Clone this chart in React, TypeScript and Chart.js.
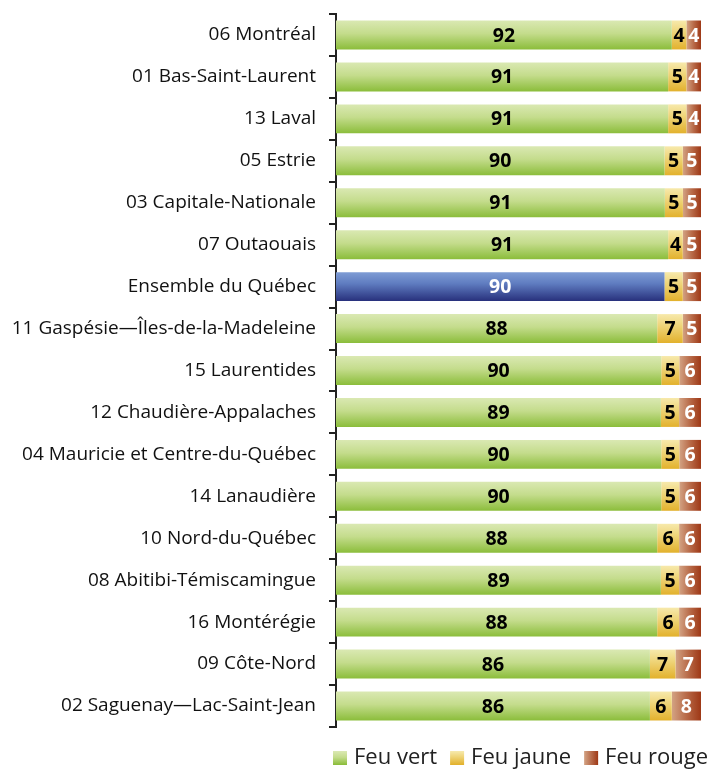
import React, { useEffect, useRef } from "react";
import { Chart, registerables } from "chart.js";
Chart.register(...registerables);

const categories = [
  "06 Montréal",
  "01 Bas-Saint-Laurent",
  "13 Laval",
  "05 Estrie",
  "03 Capitale-Nationale",
  "07 Outaouais",
  "Ensemble du Québec",
  "11 Gaspésie—Îles-de-la-Madeleine",
  "15 Laurentides",
  "12 Chaudière-Appalaches",
  "04 Mauricie et Centre-du-Québec",
  "14 Lanaudière",
  "10 Nord-du-Québec",
  "08 Abitibi-Témiscamingue",
  "16 Montérégie",
  "09 Côte-Nord",
  "02 Saguenay—Lac-Saint-Jean",
];
const feuVert = [92, 91, 91, 90, 91, 91, 90, 88, 90, 89, 90, 90, 88, 89, 88, 86, 86];
const feuJaune = [4, 5, 5, 5, 5, 4, 5, 7, 5, 5, 5, 5, 6, 5, 6, 7, 6];
const feuRouge = [4, 4, 4, 5, 5, 5, 5, 5, 6, 6, 6, 6, 6, 6, 6, 7, 8];
const seriesNames = ["Feu vert", "Feu jaune", "Feu rouge"];
const highlightIndex = 6;

const totals = categories.map((_, i) => feuVert[i] + feuJaune[i] + feuRouge[i]);
const norm = (arr: number[]) => arr.map((v, i) => (v / totals[i]) * 100);
const rawSeries = [feuVert, feuJaune, feuRouge];

const FONT = "'Open Sans', Lato, sans-serif";

function vGrad(chart: any, idx: number, stops: [number, string][]) {
  const c = chart.ctx;
  const ys = chart.scales.y;
  const fallback = stops[stops.length - 1][1];
  if (!ys) return fallback;
  const y = ys.getPixelForValue(idx);
  if (!Number.isFinite(y)) return fallback;
  const g = c.createLinearGradient(0, y - 15, 0, y + 15);
  stops.forEach(([o, col]) => g.addColorStop(o, col));
  return g;
}

const greenStops: [number, string][] = [[0, "#dbe9b4"], [0.45, "#c4dc8c"], [1, "#89bc38"]];
const blueStops: [number, string][] = [[0, "#809ed6"], [0.4, "#5f7cc0"], [1, "#262e7a"]];
const yellowStops: [number, string][] = [[0, "#f7eaae"], [0.4, "#efd57a"], [1, "#e2b02a"]];

export default function App() {
  const ref = useRef<HTMLCanvasElement>(null);
  useEffect(() => {
    if (!ref.current) return;
    const labelPlugin = {
      id: "valLabels",
      afterDatasetsDraw(chart: any) {
        const c = chart.ctx;
        c.save();
        c.font = `bold 19.5px ${FONT}`;
        c.textAlign = "center";
        c.textBaseline = "middle";
        chart.data.datasets.forEach((ds: any, di: number) => {
          const meta = chart.getDatasetMeta(di);
          meta.data.forEach((el: any, i: number) => {
            const cx = (el.x + el.base) / 2;
            let color = "#000";
            if (di === 2) color = "#fff";
            if (di === 0 && i === highlightIndex) color = "#fff";
            c.fillStyle = color;
            c.fillText(String(rawSeries[di][i]), cx, el.y + 1);
          });
        });
        c.restore();
      },
    };
    const legendPlugin = {
      id: "customLegend",
      afterDraw(chart: any) {
        const c = chart.ctx;
        c.save();
        const y = 758;
        c.font = `22px ${FONT}`;
        c.textBaseline = "middle";
        c.textAlign = "left";
        let x = 333;
        seriesNames.forEach((name, si) => {
          const bx = x, by = y - 7, s = 14;
          let g: any;
          if (si === 2) {
            g = c.createLinearGradient(bx, 0, bx + s, 0);
            g.addColorStop(0, "#d3a384");
            g.addColorStop(1, "#9e3816");
          } else {
            g = c.createLinearGradient(0, by, 0, by + s);
            const st = si === 0 ? greenStops : yellowStops;
            st.forEach(([o, col]) => g.addColorStop(o, col));
          }
          c.fillStyle = g;
          c.fillRect(bx, by, s, s);
          c.fillStyle = "#222";
          c.fillText(name, bx + s + 7, y);
          x = bx + s + 7 + c.measureText(name).width + 13;
        });
        c.restore();
      },
    };
    const chart = new Chart(ref.current, {
      type: "bar",
      data: {
        labels: categories,
        datasets: [
          {
            label: seriesNames[0],
            data: norm(feuVert),
            backgroundColor: (ctx: any) =>
              vGrad(ctx.chart, ctx.dataIndex ?? 0, ctx.dataIndex === highlightIndex ? blueStops : greenStops),
          },
          {
            label: seriesNames[1],
            data: norm(feuJaune),
            backgroundColor: (ctx: any) => vGrad(ctx.chart, ctx.dataIndex ?? 0, yellowStops),
          },
          {
            label: seriesNames[2],
            data: norm(feuRouge),
            backgroundColor: (ctx: any) => {
              const chart = ctx.chart;
              const xs = chart.scales.x;
              if (!xs || ctx.dataIndex == null) return "#a8482a";
              const i = ctx.dataIndex;
              const start = ((feuVert[i] + feuJaune[i]) / totals[i]) * 100;
              const x0 = xs.getPixelForValue(start);
              const x1 = xs.getPixelForValue(100);
              if (!Number.isFinite(x0) || !Number.isFinite(x1)) return "#a8482a";
              const g = chart.ctx.createLinearGradient(x0, 0, x1, 0);
              g.addColorStop(0, "#d3a384");
              g.addColorStop(0.5, "#b86a48");
              g.addColorStop(1, "#9e3816");
              return g;
            },
          },
        ] as any,
      },
      options: {
        indexAxis: "y",
        animation: false,
        responsive: false,
        maintainAspectRatio: false,
        datasets: { bar: { categoryPercentage: 1, barPercentage: 0.69, borderWidth: 0 } },
        layout: { padding: { top: 14, right: 17, bottom: 43, left: 0 } },
        plugins: { legend: { display: false }, tooltip: { enabled: false } },
        scales: {
          x: { stacked: true, min: 0, max: 100, display: false },
          y: {
            stacked: true,
            afterFit: (s: any) => {
              s.width = 336;
              s.paddingTop = 0;
              s.paddingBottom = 0;
            },
            border: { display: true, color: "#222", width: 2 },
            grid: { display: true, drawOnChartArea: false, drawTicks: true, tickLength: 7, color: "#222", lineWidth: 2, offset: true },
            ticks: { color: "#111", font: { family: FONT, size: 19 }, padding: 13, autoSkip: false },
          },
        },
      } as any,
      plugins: [labelPlugin, legendPlugin],
    });
    return () => chart.destroy();
  }, []);
  return (
    <div style={{ position: "fixed", left: 0, top: 0, width: 718, height: 770, background: "#fff" }}>
      <canvas ref={ref} width={718} height={770} style={{ width: 718, height: 770 }} />
    </div>
  );
}
